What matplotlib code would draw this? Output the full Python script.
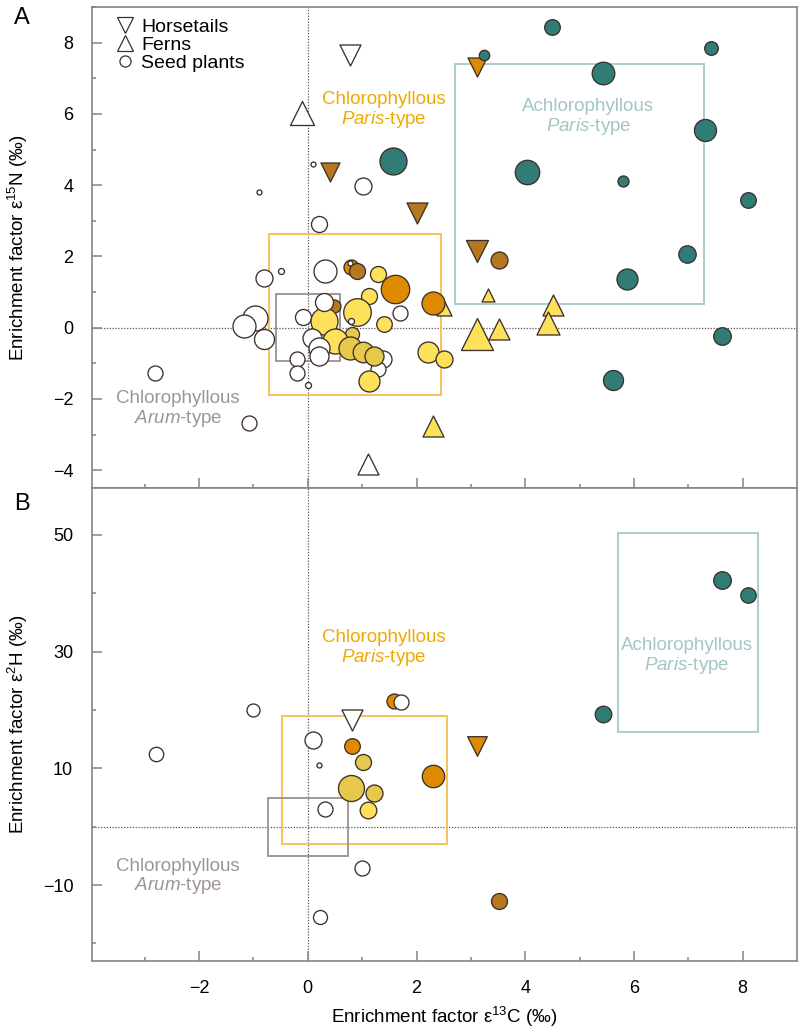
import matplotlib
matplotlib.use("Agg")
import matplotlib.pyplot as plt
from matplotlib.patches import Rectangle
from matplotlib.lines import Line2D
from matplotlib.ticker import FixedLocator, MultipleLocator

plt.rcParams['font.family'] = ['Liberation Sans', 'DejaVu Sans']
plt.rcParams['mathtext.fontset'] = 'custom'
plt.rcParams['mathtext.rm'] = 'Liberation Sans'
plt.rcParams['mathtext.it'] = 'Liberation Sans:italic'

# ---- panel A: e13C vs e15N ----
# kind: h = horsetail, f = fern, s = seed plant
a_x = [0.78, 0.41, 3.11, 2.01, 3.11,
       -0.10, 1.11, 2.31, 3.31, 4.52, 4.42, 3.11, 3.51, 2.51,
       4.49, 3.25, 7.41, 5.44, 7.31, 4.04, 5.79, 8.10, 6.98, 5.87, 7.62, 5.62, 1.57,
       0.21, -0.50, -0.81, 0.31, -0.98, -1.17, -0.80, -0.09, -0.19, -0.19, 0.01,
       -2.81, -1.09, 1.70, 1.01, 0.10, -0.90, 1.39, 1.30,
       3.52, 0.80, 0.90, 0.48, 1.61, 2.31,
       1.30, 1.12, 0.91, 0.30, 1.41, 0.81, 0.50, 0.78, 1.01, 1.21, 2.21, 2.51, 1.12,
       0.30, 0.07, 0.20, 0.20, 0.80, 0.78]
a_y = [7.65, 4.38, 7.33, 3.23, 2.14,
       6.03, -3.83, -2.76, 0.93, 0.65, 0.14, -0.19, -0.05, 0.54,
       8.45, 7.64, 7.86, 7.14, 5.55, 4.37, 4.11, 3.57, 2.08, 1.37, -0.22, -1.48, 4.69,
       2.91, 1.60, 1.38, 1.59, 0.28, 0.05, -0.31, 0.31, -0.89, -1.28, -1.60,
       -1.28, -2.68, 0.40, 3.98, 4.60, 3.80, -0.89, -1.17,
       1.89, 1.70, 1.59, 0.62, 1.09, 0.70,
       1.51, 0.90, 0.44, 0.19, 0.11, -0.19, -0.37, -0.56, -0.67, -0.79, -0.68, -0.89, -1.50,
       0.72, -0.28, -0.56, -0.80, 0.20, 1.82]
a_size = [10, 9, 9, 10, 10.5,
          11.5, 10, 10, 6, 10, 11, 15.5, 10, 7,
          7.3, 4.7, 6.3, 10.8, 10.5, 11.7, 5, 7.3, 8.2, 10, 8.3, 9.5, 13,
          7.5, 2.5, 8, 11, 12, 11, 9.5, 7.5, 7, 7, 2.5,
          7, 7, 7, 8, 2, 2, 8, 7,
          8, 7, 7.5, 6, 13.7, 11,
          7.5, 7.5, 13.3, 13, 7.3, 6.5, 12, 11, 9.8, 9, 10, 8, 10,
          8.5, 9, 10, 9, 2.5, 2]
a_kind = ['h'] * 5 + ['f'] * 9 + ['s'] * 57
a_group = ['white', 'brown', 'orange', 'brown', 'brown',
           'white', 'white', 'yellow', 'yellow', 'yellow', 'yellow', 'yellow', 'yellow', 'yellow',
           'teal', 'teal', 'teal', 'teal', 'teal', 'teal', 'teal', 'teal', 'teal', 'teal', 'teal', 'teal', 'teal',
           'white', 'white', 'white', 'white', 'white', 'white', 'white', 'white', 'white', 'white', 'white',
           'white', 'white', 'white', 'white', 'white', 'white', 'white', 'white',
           'brown', 'orange', 'brown', 'brown', 'orange', 'orange',
           'yellow', 'yellow', 'yellow', 'yellow', 'yellow', 'mustard', 'yellow', 'mustard', 'mustard',
           'mustard', 'yellow', 'yellow', 'yellow',
           'white', 'white', 'white', 'white', 'white', 'white']

# ---- panel B: e13C vs e2H ----
b_x = [0.81, 3.11,
       -2.80, -1.00, 1.58, 1.72, 0.10, 0.21, 0.31, 1.00, 0.22,
       0.81, 2.31, 1.01, 0.80, 1.21, 1.10, 3.51,
       7.62, 8.09, 5.43]
b_y = [18.2, 13.9,
       12.5, 19.9, 21.5, 21.4, 14.9, 10.5, 3.05, -7.0, -15.5,
       13.9, 8.6, 11.1, 6.6, 5.7, 2.8, -12.8,
       42.2, 39.6, 19.3]
b_size = [10, 9.3,
          6.7, 6, 7, 7, 8, 2, 7, 7, 6.5,
          7.3, 10.7, 7.5, 12.5, 8, 7.8, 7.5,
          8.3, 7.2, 7.8]
b_kind = ['h', 'h'] + ['s'] * 19
b_group = ['white', 'orange',
           'white', 'white', 'orange', 'white', 'white', 'white', 'white', 'white', 'white',
           'orange', 'orange', 'mustard', 'mustard', 'mustard', 'yellow', 'brown',
           'teal', 'teal', 'teal']

# boxes: (x0, x1, y0, y1)
a_box_paris = (-0.71, 2.45, -1.89, 2.62)
a_box_arum = (-0.58, 0.59, -0.94, 0.94)
a_box_achl = (2.70, 7.29, 0.67, 7.39)
b_box_paris = (-0.47, 2.57, -3.0, 19.0)
b_box_arum = (-0.74, 0.74, -5.0, 4.9)
b_box_achl = (5.70, 8.28, 16.3, 50.3)

x_major = [-2, 0, 2, 4, 6, 8]
x_minor = [-3, -1, 1, 3, 5, 7]

FILL = {'white': '#ffffff', 'yellow': '#fde15b', 'mustard': '#e6c84c',
        'orange': '#df8b02', 'brown': '#b5781f', 'teal': '#2f7d76'}
MARK = {'h': 'v', 'f': '^', 's': 'o'}
EDGE = '#3b302c'
SPINE = '#8d817e'
C_PARIS = '#f0a900'
C_ACHL = '#a3c5c6'
C_ARUM = '#9e9592'
BOX_PARIS = '#f6bd4e'
BOX_ARUM = '#9b918e'
BOX_ACHL = '#a6c9c8'

fig = plt.figure(figsize=(7.99, 10.28), dpi=100)
axA = fig.add_axes([92 / 799, 1 - 488 / 1028, 705 / 799, 481 / 1028])
axB = fig.add_axes([92 / 799, 1 - 961 / 1028, 705 / 799, 473 / 1028])


def px2s(r):
    return (2 * r / 1.389) ** 2


def draw_points(ax, xs, ys, sizes, kinds, groups):
    for x, y, r, k, g in zip(xs, ys, sizes, kinds, groups):
        ax.scatter([x], [y], s=px2s(r + 0.5), marker=MARK[k], facecolor=FILL[g],
                   edgecolor=EDGE, linewidth=0.95, zorder=3)


def draw_box(ax, box, color):
    x0, x1, y0, y1 = box
    ax.add_patch(Rectangle((x0, y0), x1 - x0, y1 - y0, fill=False,
                           edgecolor=color, linewidth=1.3, zorder=2))


def style(ax):
    for sp in ax.spines.values():
        sp.set_color(SPINE)
        sp.set_linewidth(1.2)
    ax.tick_params(which='both', direction='in', color=SPINE, width=1.1,
                   labelsize=13, pad=13.5, top=False, right=False)
    ax.tick_params(which='major', length=7)
    ax.tick_params(which='minor', length=3.2)
    ax.axvline(0, color='#5e5350', lw=0.9, ls=(0, (1, 1.3)), zorder=1)
    ax.axhline(0, color='#5e5350', lw=0.9, ls=(0, (1, 1.3)), zorder=1)
    ax.set_xlim(-3.97, 9)
    ax.xaxis.set_major_locator(FixedLocator(x_major))
    ax.xaxis.set_minor_locator(FixedLocator(x_minor))


def label(ax, x, y, line1, line2, color):
    ax.text(x, y, line1 + '\n' + line2, color=color, fontsize=13.5,
            ha='center', va='center', multialignment='center',
            linespacing=1.05, zorder=2)


# panel A
style(axA)
axA.set_ylim(-4.5, 9)
axA.yaxis.set_major_locator(MultipleLocator(2))
axA.yaxis.set_minor_locator(MultipleLocator(1))
axA.tick_params(axis='x', labelbottom=False)
draw_box(axA, a_box_paris, BOX_PARIS)
draw_box(axA, a_box_arum, BOX_ARUM)
draw_box(axA, a_box_achl, BOX_ACHL)
draw_points(axA, a_x, a_y, a_size, a_kind, a_group)
label(axA, 1.39, 6.1, 'Chlorophyllous', r'$\mathit{Paris}$-type', C_PARIS)
label(axA, 5.16, 5.9, 'Achlorophyllous', r'$\mathit{Paris}$-type', C_ACHL)
label(axA, -2.39, -2.29, 'Chlorophyllous', r'$\mathit{Arum}$-type', C_ARUM)
axA.set_ylabel('Enrichment factor ε$^{15}$N (‰)', fontsize=13.5)
axA.yaxis.set_label_coords(-0.088, 0.5)

handles = [Line2D([], [], ls='', marker='v', ms=11, mfc='white', mec=EDGE, mew=0.9),
           Line2D([], [], ls='', marker='^', ms=11, mfc='white', mec=EDGE, mew=0.9),
           Line2D([], [], ls='', marker='o', ms=8, mfc='white', mec=EDGE, mew=0.9)]
axA.legend(handles, ['Horsetails', 'Ferns', 'Seed plants'], loc='upper left',
           bbox_to_anchor=(0.0335, 0.976), borderaxespad=0, borderpad=0,
           frameon=False, fontsize=14, handlelength=1.0, handletextpad=0.3,
           labelspacing=0.02)

# panel B
style(axB)
axB.set_ylim(-23, 58)
axB.yaxis.set_major_locator(FixedLocator([-10, 10, 30, 50]))
axB.yaxis.set_minor_locator(FixedLocator([-20, 0, 20, 40]))
draw_box(axB, b_box_paris, BOX_PARIS)
draw_box(axB, b_box_arum, BOX_ARUM)
draw_box(axB, b_box_achl, BOX_ACHL)
draw_points(axB, b_x, b_y, b_size, b_kind, b_group)
label(axB, 1.39, 30.5, 'Chlorophyllous', r'$\mathit{Paris}$-type', C_PARIS)
label(axB, 6.97, 29.1, 'Achlorophyllous', r'$\mathit{Paris}$-type', C_ACHL)
label(axB, -2.39, -8.6, 'Chlorophyllous', r'$\mathit{Arum}$-type', C_ARUM)
axB.set_ylabel('Enrichment factor ε$^{2}$H (‰)', fontsize=13.5)
axB.yaxis.set_label_coords(-0.088, 0.5)
axB.set_xlabel('Enrichment factor ε$^{13}$C (‰)', fontsize=13.5)
axB.xaxis.set_label_coords(0.5, -0.093)

fig.text(14 / 799, 1 - 7 / 1028, 'A', fontsize=17, va='top', ha='left')
fig.text(14 / 799, 1 - 493 / 1028, 'B', fontsize=17, va='top', ha='left')

fig.savefig('out.png', dpi=100)
